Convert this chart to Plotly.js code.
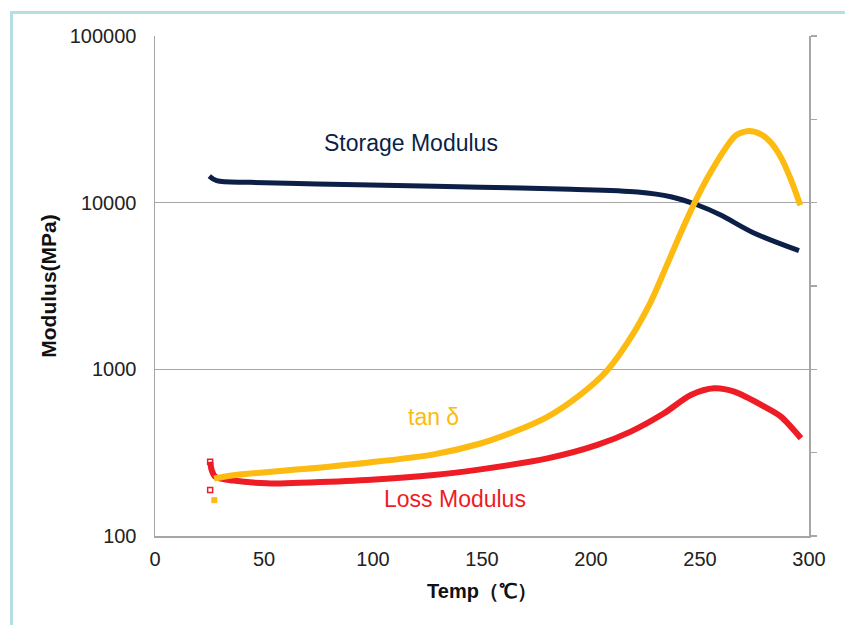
<!DOCTYPE html>
<html>
<head>
<meta charset="utf-8">
<script src="https://cdn.plot.ly/plotly-3.0.1.min.js"></script>
<style>
  html, body { margin: 0; padding: 0; background: #ffffff; }
  #wrap { position: relative; width: 845px; height: 625px; overflow: hidden; }
  #frame { position: absolute; left: 10px; top: 11px; width: 845px; height: 625px;
           border-left: 3px solid #b6dee4; border-top: 3px solid #b6dee4; pointer-events: none; }
  #chart { position: absolute; left: 0; top: 0; width: 845px; height: 625px; }
</style>
</head>
<body>
<div id="wrap">
  <div id="chart"></div>
  <div id="frame"></div>
</div>
<script>
// Storage modulus (MPa), log axis
const storageTemp = [24.9, 28.3, 43.6, 74.3, 104.7, 149.3, 190.7, 221.3, 236.6, 248.9, 259.5, 274.7, 295.4];
const storageMod  = [14450, 13550, 13250, 12940, 12710, 12370, 12030, 11590, 10860, 9680, 8430, 6580, 5150];

// Loss modulus (MPa), log axis
const lossTemp = [25.3, 26.0, 27.6, 36.0, 51.3, 66.6, 97.3, 127.9, 149.3, 180.0, 202.9, 218.2, 233.5, 245.8, 256.5, 265.7, 279.5, 287.1, 296.3];
const lossMod  = [279, 249, 227, 215, 207, 209, 217, 232, 251, 292, 352, 423, 545, 701, 769, 734, 597, 520, 386];

// tan delta, secondary linear axis
const tanTemp  = [27.1, 36.0, 66.6, 97.3, 127.9, 149.3, 164.6, 180.0, 195.3, 207.5, 218.2, 227.4, 234.3, 241.2, 248.1, 255.0, 261.9, 266.5, 272.4, 278.0, 282.6, 287.2, 291.8, 296.0];
const tanDelta = [0.069, 0.073, 0.080, 0.088, 0.098, 0.111, 0.125, 0.143, 0.170, 0.199, 0.238, 0.281, 0.322, 0.364, 0.403, 0.437, 0.466, 0.481, 0.486, 0.482, 0.472, 0.454, 0.427, 0.397];

// stray first readings shown as markers
const lossStrayTemp = [25.3, 25.3];
const lossStrayMod  = [279, 189];
const tanStrayTemp  = [27.2];
const tanStrayVal   = [0.043];

const xTicks = [0, 50, 100, 150, 200, 250, 300];
const yTicks = [100, 1000, 10000, 100000];

const navy = '#0c1f47', gold = '#fdbb11', red = '#ee1c25', grid = '#a6a6a6';
const font = 'Liberation Sans, Arial, sans-serif';

const traces = [
  { x: storageTemp, y: storageMod, mode: 'lines', line: { color: navy, width: 5, shape: 'spline', smoothing: 0.9 }, showlegend: false, hoverinfo: 'skip' },
  { x: lossTemp, y: lossMod, mode: 'lines', line: { color: red, width: 6, shape: 'spline', smoothing: 0.8 }, showlegend: false, hoverinfo: 'skip' },
  { x: tanTemp, y: tanDelta, yaxis: 'y2', mode: 'lines', line: { color: gold, width: 6, shape: 'spline', smoothing: 0.8 }, showlegend: false, hoverinfo: 'skip' },
  { x: lossStrayTemp, y: lossStrayMod, mode: 'markers', marker: { symbol: 'square-open', size: 5, color: red, line: { color: red, width: 1.5 } }, showlegend: false, hoverinfo: 'skip' },
  { x: tanStrayTemp, y: tanStrayVal, yaxis: 'y2', mode: 'markers', marker: { symbol: 'square', size: 6, color: gold }, showlegend: false, hoverinfo: 'skip' }
];

const layout = {
  width: 845, height: 625,
  margin: { l: 155, r: 36, t: 36, b: 89 },
  paper_bgcolor: 'rgba(0,0,0,0)', plot_bgcolor: '#ffffff',
  font: { family: font, color: '#222222', size: 20 },
  xaxis: {
    range: [0, 300], tickvals: xTicks, ticktext: xTicks.map(String),
    showgrid: false, zeroline: false, showline: true, linecolor: grid, linewidth: 1.5,
    ticks: '', ticklabelstandoff: 4, tickfont: { size: 20, family: font, color: '#222222' },
    title: { text: '<b>Temp（℃）</b>', font: { size: 20, family: font, color: '#111111' }, standoff: 15 }
  },
  yaxis: {
    type: 'log', range: [2, 5], tickvals: yTicks, ticktext: yTicks.map(String),
    showgrid: true, gridcolor: grid, gridwidth: 1.5, zeroline: false,
    showline: true, linecolor: grid, linewidth: 1.5, ticks: '', ticklabelstandoff: 13,
    tickfont: { size: 20, family: font, color: '#222222' },
    title: { text: '<b>Modulus(MPa)</b>', font: { size: 21, family: font, color: '#111111' }, standoff: 7 }
  },
  yaxis2: {
    overlaying: 'y', side: 'right', range: [0, 0.6], dtick: 0.1, tick0: 0,
    showgrid: false, zeroline: false, showline: true, linecolor: grid, linewidth: 1.5,
    ticks: 'outside', ticklen: 6, tickcolor: grid, tickwidth: 1.5, showticklabels: false
  },
  annotations: [
    { x: 117.6, y: 4.358, xref: 'x', yref: 'y', text: 'Storage Modulus', showarrow: false,
      font: { size: 23, family: font, color: navy } },
    { x: 127.7, y: 0.143, xref: 'x', yref: 'y2', text: 'tan δ', showarrow: false,
      font: { size: 23, family: font, color: gold } },
    { x: 137.8, y: Math.log10(167), xref: 'x', yref: 'y', text: 'Loss Modulus', showarrow: false,
      font: { size: 23, family: font, color: red } }
  ]
};

Plotly.newPlot('chart', traces, layout, { staticPlot: true, displayModeBar: false });
</script>
</body>
</html>
